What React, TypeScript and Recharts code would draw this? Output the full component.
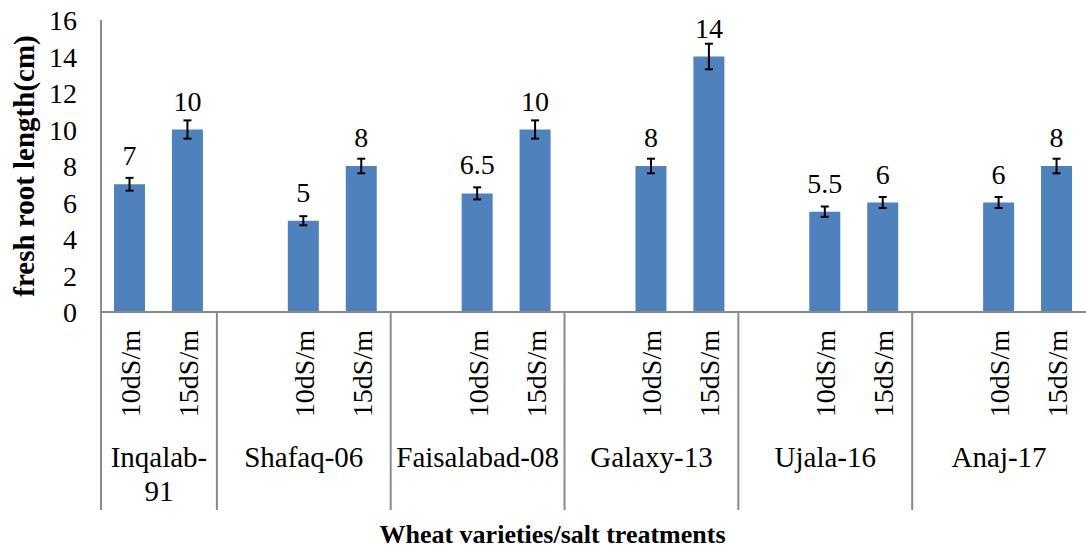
import { Bar, BarChart, ErrorBar, LabelList, XAxis, YAxis } from "recharts";

// fresh root length per variety, two salt treatments
const varieties = ["Inqalab-91", "Shafaq-06", "Faisalabad-08", "Galaxy-13", "Ujala-16", "Anaj-17"];
const varietyLines = [["Inqalab-", "91"], ["Shafaq-06"], ["Faisalabad-08"], ["Galaxy-13"], ["Ujala-16"], ["Anaj-17"]];
const treatments = ["10dS/m", "15dS/m"];
const length10 = [7, 5, 6.5, 8, 5.5, 6];
const length15 = [10, 8, 10, 14, 6, 8];
const err10 = [0.35, 0.25, 0.33, 0.4, 0.28, 0.3];
const err15 = [0.5, 0.4, 0.5, 0.7, 0.3, 0.4];
const yTicks = [0, 2, 4, 6, 8, 10, 12, 14, 16];

const FONT = '"Liberation Serif", "Times New Roman", serif';
const AXIS = "#8a8a8a";
const txt = { fontFamily: FONT, fontSize: 28, fill: "#000" };
const groupTxt = { ...txt, fontSize: 29 };

type Row = {
  cat: string;
  group: number;
  first: boolean;
  size: number;
  value: number | null;
  err: number | null;
};

// each variety after the first gets an empty leading slot (as in the original excel layout)
const rows: Row[] = [];
varieties.forEach((_, i) => {
  const size = i === 0 ? 2 : 3;
  if (i > 0) rows.push({ cat: "", group: i, first: true, size, value: null, err: null });
  rows.push({ cat: treatments[0], group: i, first: i === 0, size, value: length10[i], err: err10[i] });
  rows.push({ cat: treatments[1], group: i, first: false, size, value: length15[i], err: err15[i] });
});

function CategoryTick(props: any) {
  const { x, y, payload } = props;
  const row = rows[payload.index];
  if (!row) return null;
  const half = payload.offset || 29;
  const left = x - half;
  return (
    <g>
      {row.cat ? (
        <text
          x={x + 10}
          y={y + 18}
          transform={`rotate(-90, ${x + 10}, ${y + 18})`}
          textAnchor="end"
          style={txt}
        >
          {row.cat}
        </text>
      ) : null}
      {row.first ? (
        <>
          <line x1={left} y1={y} x2={left} y2={y + 198} stroke={AXIS} strokeWidth={2} />
          {varietyLines[row.group].map((t, k) => (
            <text key={k} x={left + row.size * half} y={y + 155 + k * 34} textAnchor="middle" style={groupTxt}>
              {t}
            </text>
          ))}
        </>
      ) : null}
    </g>
  );
}

function ValueLabel(props: any) {
  const { x, y, width, value } = props;
  if (value == null) return null;
  return (
    <text x={x + width / 2} y={y - 19} textAnchor="middle" style={txt}>
      {value}
    </text>
  );
}

function YTick(props: any) {
  const { x, y, payload } = props;
  return (
    <text x={x} y={y + 10} textAnchor="end" style={txt}>
      {payload.value}
    </text>
  );
}

export default function App() {
  return (
    <div style={{ position: "absolute", left: 0, top: 0, width: 1086, height: 548, background: "#fff" }}>
      <BarChart width={1086} height={548} data={rows} margin={{ top: 20, right: 0, left: 0, bottom: 0 }}>
        <XAxis
          dataKey="cat"
          height={236}
          interval={0}
          tickLine={false}
          tickSize={0}
          tickMargin={0}
          axisLine={{ stroke: AXIS, strokeWidth: 2 }}
          tick={<CategoryTick />}
          label={{
            value: "Wheat varieties/salt treatments",
            position: "insideBottom",
            offset: 5,
            dx: -41,
            style: { fontFamily: FONT, fontSize: 26, fontWeight: "bold", fill: "#000" },
          }}
        />
        <YAxis
          width={101}
          domain={[0, 16]}
          ticks={yTicks}
          interval={0}
          tickLine={false}
          tickSize={0}
          tickMargin={24}
          axisLine={{ stroke: AXIS, strokeWidth: 2 }}
          tick={<YTick />}
          label={{
            value: "fresh root length(cm)",
            angle: -90,
            position: "insideLeft",
            offset: 24,
            style: { fontFamily: FONT, fontSize: 29, fontWeight: "bold", fill: "#000", textAnchor: "middle" },
          }}
        />
        <Bar dataKey="value" fill="#4F81BD" barSize={31} isAnimationActive={false}>
          <ErrorBar dataKey="err" width={4} stroke="#000" strokeWidth={2} direction="y" />
          <LabelList dataKey="value" content={<ValueLabel />} />
        </Bar>
      </BarChart>
    </div>
  );
}
